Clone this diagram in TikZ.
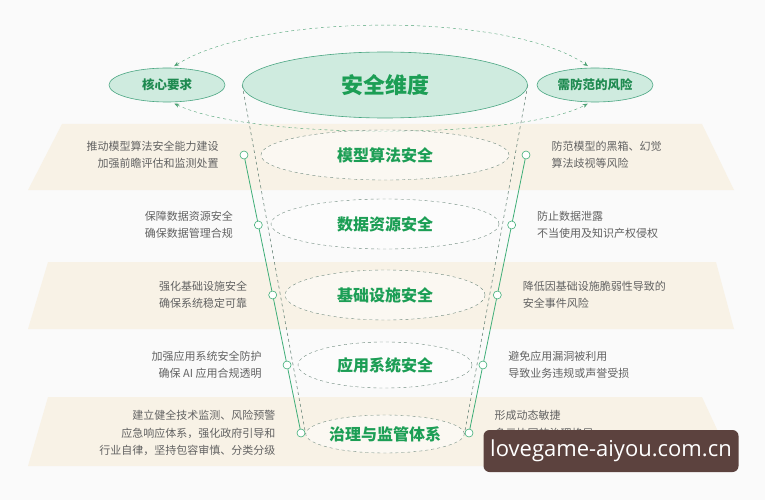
\documentclass[tikz,border=0pt]{standalone}
\usepackage{fontspec}
\setmainfont{Noto Sans CJK SC}
\newfontfamily\wmfont{Open Sans}
\usepackage{tikz}
\usetikzlibrary{arrows.meta,positioning,shapes.geometric,backgrounds}
\definecolor{mintfill}{HTML}{CFEBDF}
\definecolor{mintedge}{HTML}{4AA682}
\definecolor{leafgreen}{HTML}{1C9E55}
\definecolor{darkleaf}{HTML}{1E8A50}
\definecolor{lineleaf}{HTML}{3FAE78}
\definecolor{sandband}{HTML}{F8F2E6}
\definecolor{notegray}{HTML}{626262}
\definecolor{dashgray}{HTML}{6F8A7E}
\definecolor{wmbrown}{HTML}{5C423E}
\tikzset{
  dimnode/.style={ellipse,draw=mintedge,fill=mintfill,semithick,inner sep=0pt,
    minimum width=285pt,minimum height=66pt,font=\fontsize{22}{24}\selectfont\bfseries,text=leafgreen},
  sidenode/.style={ellipse,draw=mintedge,fill=mintfill,semithick,inner sep=0pt,
    minimum width=116pt,minimum height=34pt,font=\fontsize{12.5}{14}\selectfont\bfseries,text=darkleaf},
  layernode/.style={ellipse,draw=dashgray,dashed,fill=white,fill opacity=.5,text opacity=1,
    inner sep=0pt,font=\fontsize{16}{18}\selectfont\bfseries,text=leafgreen},
  dotnode/.style={circle,draw=lineleaf,fill=white,semithick,inner sep=0pt,minimum size=8pt},
  lnote/.style={align=right,text=notegray,font=\fontsize{11}{17.5}\selectfont,inner sep=1pt},
  rnote/.style={align=left,text=notegray,font=\fontsize{11}{17.5}\selectfont,inner sep=1pt},
  funline/.style={dashed,dashgray,semithick},
  legline/.style={lineleaf,thick},
  loopedge/.style={<->,>={Stealth[length=5pt,width=4pt]},dashed,thin,darkleaf!80,shorten <=3pt,shorten >=3pt},
  wmbox/.style={rectangle,rounded corners=6pt,fill=wmbrown,text=white,minimum width=255pt,
    minimum height=42pt,font=\wmfont\fontsize{22}{24}\selectfont},
}

\begin{document}
\begin{tikzpicture}[x=1pt,y=-1pt]
  \useasboundingbox (0,0) rectangle (765,500);
  \begin{scope}[on background layer]
    \fill[white!98!black] (0,0) rectangle (765,500);
    \fill[sandband] (62,124) -- (702,124) -- (734,190) -- (28,190) -- cycle;
    \fill[sandband] (48,262) -- (716,262) -- (734,329) -- (28,329) -- cycle;
    \fill[sandband] (48,397) -- (702,397) -- (734,466) -- (28,466) -- cycle;
  \end{scope}

  \node[dimnode] (dim) at (385,85) {安全维度};
  \node[sidenode] (core) at (167,85) {核心要求};
  \node[sidenode] (risk) at (595,85) {需防范的风险};
  \draw[loopedge] (core.75) .. controls (260,12) and (510,12) .. (risk.105);
  \draw[loopedge] (core.-75) .. controls (250,140) and (520,140) .. (risk.-105);

  \node[layernode,minimum width=248pt,minimum height=50pt] (model) at (385,155) {模型算法安全};
  \node[layernode,minimum width=228pt,minimum height=50pt] (data) at (385,224) {数据资源安全};
  \node[layernode,minimum width=200pt,minimum height=50pt] (infra) at (385,295) {基础设施安全};
  \node[layernode,minimum width=174pt,minimum height=46pt] (app) at (385,365) {应用系统安全};
  \node[layernode,minimum width=150pt,minimum height=38pt] (gov) at (385,434) {治理与监管体系};

  \begin{scope}[on background layer]
    \draw[funline] (dim.west) -- (gov.west);
    \draw[funline] (dim.east) -- (gov.east);
  \end{scope}

  \foreach \i/\y in {1/155,2/225,3/295,4/365,5/433}{
    \node[dotnode] (l\i) at ({244+0.205*(\y-155)},\y) {};
    \node[dotnode] (r\i) at ({526-0.205*(\y-155)},\y) {};
  }
  \draw[legline] (l1) -- (l2) -- (l3) -- (l4) -- (l5);
  \draw[legline] (r1) -- (r2) -- (r3) -- (r4) -- (r5);

  \node[lnote,left=20pt of l1] (ln1) {推动模型算法安全能力建设\\加强前瞻评估和监测处置};
  \node[lnote,left=20pt of l2] (ln2) {保障数据资源安全\\确保数据管理合规};
  \node[lnote,left=20pt of l3] (ln3) {强化基础设施安全\\确保系统稳定可靠};
  \node[lnote,left=20pt of l4] (ln4) {加强应用系统安全防护\\确保 AI 应用合规透明};
  \node[lnote,left=20pt of l5] (ln5) {建立健全技术监测、风险预警\\应急响应体系，强化政府引导和\\行业自律，坚持包容审慎、分类分级};

  \node[rnote,right=20pt of r1] (rn1) {防范模型的黑箱、幻觉\\算法歧视等风险};
  \node[rnote,right=20pt of r2] (rn2) {防止数据泄露\\不当使用及知识产权侵权};
  \node[rnote,right=20pt of r3] (rn3) {降低因基础设施脆弱性导致的\\安全事件风险};
  \node[rnote,right=20pt of r4] (rn4) {避免应用漏洞被利用\\导致业务违规或声誉受损};
  \node[rnote,right=20pt of r5,yshift=8.5pt] (rn5) {形成动态敏捷\\多元协同的治理格局};

  \node[wmbox] (wm) at (611,451) {lovegame-aiyou.com.cn};
\end{tikzpicture}
\end{document}
